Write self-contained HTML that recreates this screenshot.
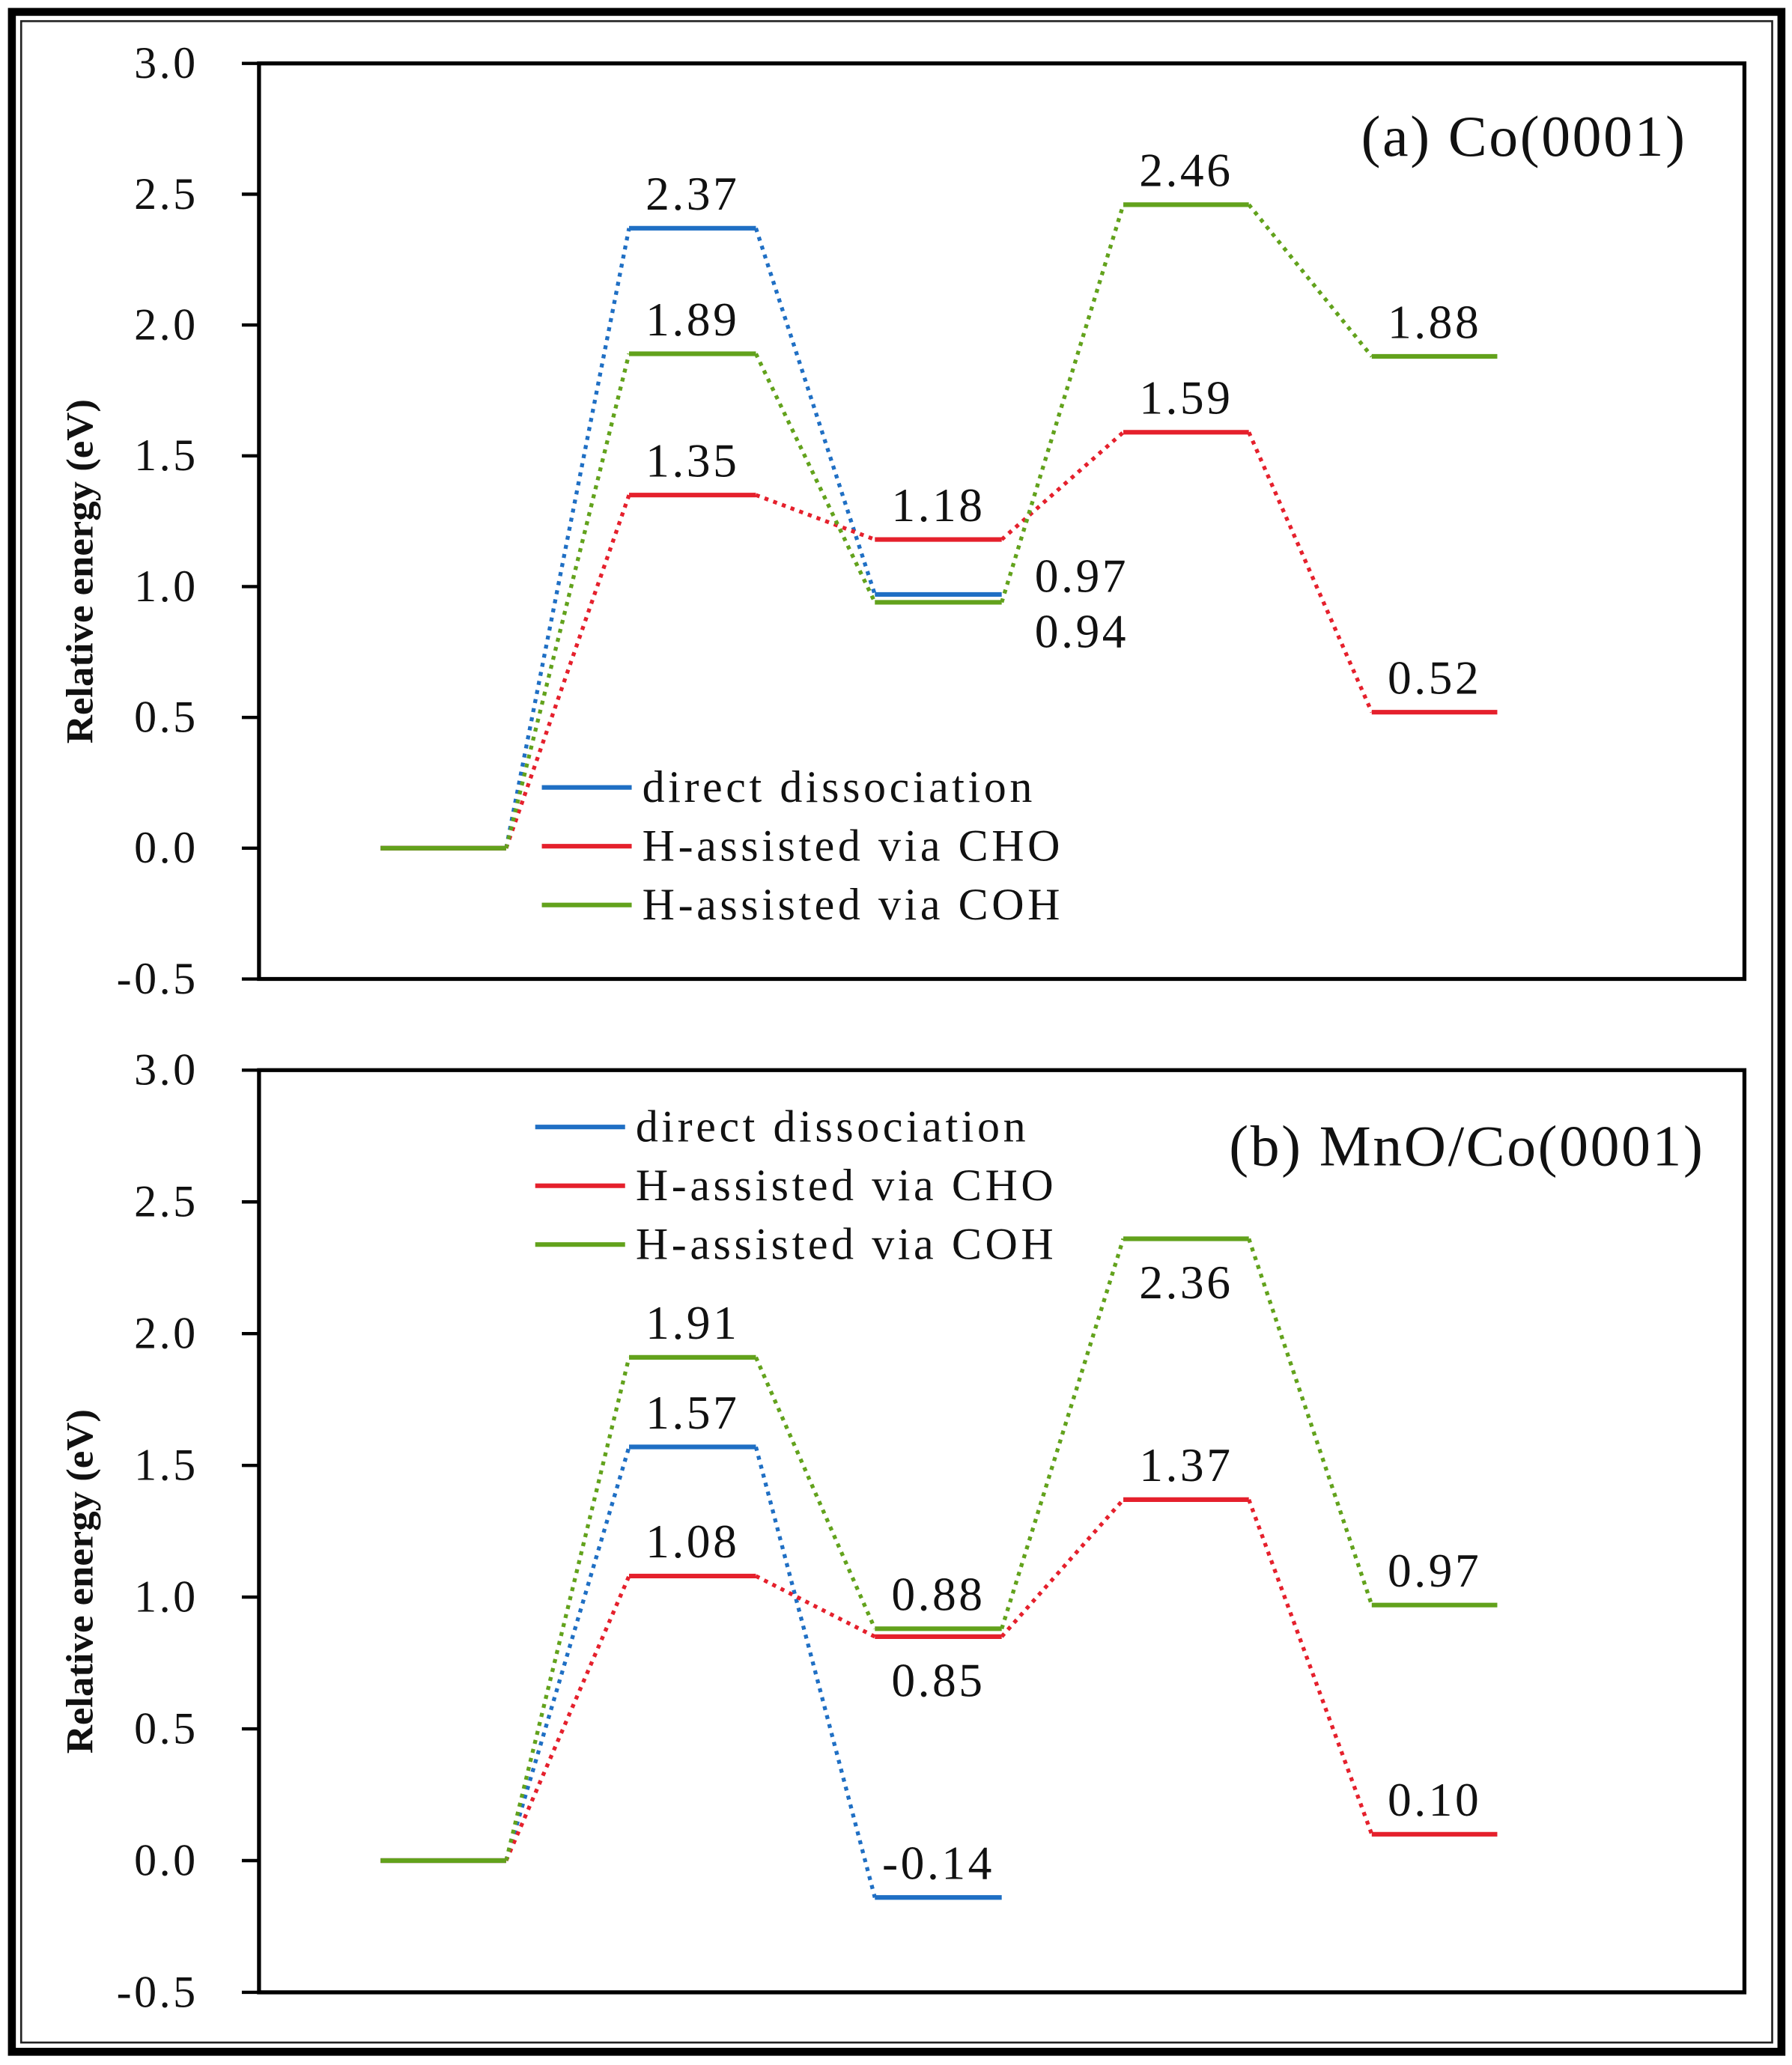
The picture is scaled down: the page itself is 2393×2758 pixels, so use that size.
<!DOCTYPE html>
<html><head><meta charset="utf-8"><style>
html,body{margin:0;padding:0;background:#fff;}
svg{display:block;}
text{font-family:"Liberation Serif","DejaVu Serif",serif;fill:#111;}
</style></head><body>
<svg id="chart" width="2393" height="2758" viewBox="0 0 1356 1563" preserveAspectRatio="none" xmlns="http://www.w3.org/2000/svg">
<rect x="9" y="9" width="1339" height="1544" fill="none" stroke="#000" stroke-width="6"/>
<rect x="16" y="16" width="1325" height="1530" fill="none" stroke="#222" stroke-width="1.5"/>
<g id="gA"></g><g id="gB"></g>
</svg>
<script>
const seriesNames = ["direct dissociation","H-assisted via CHO","H-assisted via COH"];
const tickValues = [3.0,2.5,2.0,1.5,1.0,0.5,0.0,-0.5];
const aDirect = [0,2.37,0.97];
const aCHO = [0,1.35,1.18,1.59,0.52];
const aCOH = [0,1.89,0.94,2.46,1.88];
const bDirect = [0,1.57,-0.14];
const bCHO = [0,1.08,0.85,1.37,0.10];
const bCOH = [0,1.91,0.88,2.36,0.97];
const colors = ["#1f6fc4","#e5202c","#62a21c"];
const NS="http://www.w3.org/2000/svg";
function mk(p,tag,attrs){const e=document.createElementNS(NS,tag);for(const k in attrs)e.setAttribute(k,attrs[k]);p.appendChild(e);return e;}
const levelX=[[288,383],[476,572],[662,758],[850,945],[1038,1133]];
function panel(g,y3,yNeg,title,titleX,titleY,series,legY,legX,labelPos,name){
  const yS=v=>y3+(3-v)*(yNeg-y3)/3.5;
  const ax=mk(g,'path',{d:`M196 ${y3} L1320 ${y3} L1320 ${yNeg} L196 ${yNeg} Z`,fill:'none',stroke:'#000','stroke-width':3});
  
  
  tickValues.forEach(v=>{
    const t=mk(g,'line',{x1:183,x2:196,y1:yS(v),y2:yS(v),stroke:'#000','stroke-width':2.5});
    
    
    const l=mk(g,'text',{x:150,y:yS(v)+11,'text-anchor':'end','font-size':34,'letter-spacing':'2'});
    l.textContent=v.toFixed(1);
    
    
  });
  const cy=(y3+yNeg)/2+38;
  const yt=mk(g,'text',{x:0,y:0,'text-anchor':'middle','font-size':34,'font-weight':'bold',transform:`translate(70 ${cy}) rotate(-90) scale(0.88 0.85)`});
  yt.textContent='Relative energy (eV)';
  
  
  const tt=mk(g,'text',{x:titleX,y:titleY,'font-size':44,'letter-spacing':'1.5'});
  tt.textContent=title;
  
  
  series.forEach((vals,s)=>{
    for(let i=0;i<vals.length-1;i++){
      const c=mk(g,'line',{x1:levelX[i][1],y1:yS(vals[i]),x2:levelX[i+1][0],y2:yS(vals[i+1]),stroke:colors[s],'stroke-width':3,'stroke-dasharray':'3 4'});
      
      
    }
  });
  series.forEach((vals,s)=>{
    vals.forEach((v,i)=>{
      const l=mk(g,'line',{x1:levelX[i][0],x2:levelX[i][1],y1:yS(v),y2:yS(v),stroke:colors[s],'stroke-width':3.5});
      
      
      if(i===0)return;
      const p=labelPos[s][i]||'above';
      let x=(levelX[i][0]+levelX[i][1])/2,y=yS(v)-14,anc='middle';
      if(p==='right'){x=levelX[i][1]+25;y=yS(v)-2;anc='start';}
      if(p==='rightbelow'){x=levelX[i][1]+25;y=yS(v)+34;anc='start';}
      if(p==='below'){y=yS(v)+45;}
      const t=mk(g,'text',{x:x,y:y,'text-anchor':anc,'font-size':36,'letter-spacing':'2'});
      t.textContent=v.toFixed(2);
      
      
    });
  });
  seriesNames.forEach((n,s)=>{
    const y=legY+s*44.5;
    const l=mk(g,'line',{x1:legX,x2:legX+68,y1:y,y2:y,stroke:colors[s],'stroke-width':3.5});
    
    
    const t=mk(g,'text',{x:legX+76,y:y+11,'font-size':34,'letter-spacing':'2.6'});
    t.textContent=n;
    
    
  });
}
panel(document.getElementById('gA'),48,741,'(a) Co(0001)',1030,118,[aDirect,aCHO,aCOH],596,410,
  [[null,'above','right'],[null,'above','above','above','above'],[null,'above','rightbelow','above','above']],'panel-a');
panel(document.getElementById('gB'),810,1508,'(b) MnO/Co(0001)',930,882,[bDirect,bCHO,bCOH],853,405,
  [[null,'above','above'],[null,'above','below','above','above'],[null,'above','above','below','above']],'panel-b');
</script>
</body></html>
